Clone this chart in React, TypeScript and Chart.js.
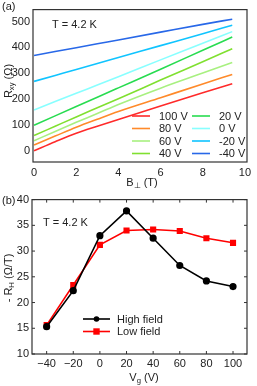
import React, { useEffect, useRef } from "react";
import { Chart, registerables } from "chart.js";

Chart.register(...registerables);

// ---- Panel (a) data ----
const B_FIELD = [0, 1, 2, 3, 4, 6, 8, 9.4];
const GATE_LABELS = ["100 V", "80 V", "60 V", "40 V", "20 V", "0 V", "-20 V", "-40 V"];
const R_100 = [1, 36, 69, 96, 122, 174, 225, 260];
const R_80 = [24, 58, 92, 123, 153, 206, 259, 296];
const R_60 = [40, 76, 111, 145, 180, 243, 301, 342];
const R_40 = [60, 96, 132, 167, 202, 274, 345, 395];
const R_20 = [100, 136, 172, 208, 244, 316, 389, 440];
const R_0 = [159, 191, 223, 255, 287, 352, 416, 461];
const R_M20 = [269, 292, 315, 338, 361, 407, 453, 486];
const R_M40 = [369, 384, 399, 414, 429, 459, 489, 509];
const GATE_COLORS = ["#ff2a2a", "#ff8a2a", "#a8f080", "#80e030", "#28dc50", "#88ffff", "#10c4ff", "#2868e8"];
const A_X_TICKS = [0, 2, 4, 6, 8, 10];
const A_Y_TICKS = [0, 100, 200, 300, 400, 500];

// ---- Panel (b) data ----
const VG = [-40, -20, 0, 20, 40, 60, 80, 100];
const HIGH_FIELD = [15.3, 22.3, 33.0, 37.8, 32.5, 27.2, 24.2, 23.1];
const LOW_FIELD = [15.6, 23.4, 31.2, 34.0, 34.2, 33.9, 32.5, 31.6];
const B_X_TICKS = [-40, -20, 0, 20, 40, 60, 80, 100];
const B_Y_TICKS = [10, 15, 20, 25, 30, 35, 40];

const FONT = "'Liberation Sans', Arial, sans-serif";
const TXT = "#222";

type Part = [string, boolean];
function drawParts(ctx: CanvasRenderingContext2D, parts: Part[], cx: number, cy: number, size: number, rotate: boolean) {
  ctx.save();
  ctx.translate(cx, cy);
  if (rotate) ctx.rotate(-Math.PI / 2);
  ctx.fillStyle = TXT;
  ctx.textBaseline = "middle";
  ctx.textAlign = "left";
  let w = 0;
  for (const [t, sub] of parts) {
    ctx.font = `${sub ? size * 0.7 : size}px ${FONT}`;
    w += ctx.measureText(t).width;
  }
  let x = -w / 2;
  for (const [t, sub] of parts) {
    ctx.font = `${sub ? size * 0.7 : size}px ${FONT}`;
    ctx.fillText(t, x, sub ? size * 0.3 : 0);
    x += ctx.measureText(t).width;
  }
  ctx.restore();
}

function text(ctx: CanvasRenderingContext2D, t: string, x: number, y: number, size = 11) {
  ctx.save();
  ctx.fillStyle = TXT;
  ctx.font = `${size}px ${FONT}`;
  ctx.textBaseline = "middle";
  ctx.textAlign = "left";
  ctx.fillText(t, x, y);
  ctx.restore();
}

function frame(chart: any, ticksX: number[] | null, ticksY: number[] | null) {
  const ctx = chart.ctx;
  const a = chart.chartArea;
  ctx.save();
  ctx.strokeStyle = "#333";
  ctx.lineWidth = 1.2;
  ctx.strokeRect(a.left, a.top, a.right - a.left, a.bottom - a.top);
  ctx.lineWidth = 1;
  if (ticksX) {
    for (const v of ticksX) {
      const x = chart.scales.x.getPixelForValue(v);
      ctx.beginPath();
      ctx.moveTo(x, a.bottom); ctx.lineTo(x, a.bottom - 3);
      ctx.moveTo(x, a.top); ctx.lineTo(x, a.top + 3);
      ctx.stroke();
    }
  }
  if (ticksY) {
    for (const v of ticksY) {
      const y = chart.scales.y.getPixelForValue(v);
      ctx.beginPath();
      ctx.moveTo(a.left, y); ctx.lineTo(a.left + 3, y);
      ctx.moveTo(a.right, y); ctx.lineTo(a.right - 3, y);
      ctx.stroke();
    }
  }
  ctx.restore();
}

const tickFont = { family: FONT, size: 11 };

export default function App() {
  const refA = useRef<HTMLCanvasElement>(null);
  const refB = useRef<HTMLCanvasElement>(null);

  useEffect(() => {
    const seriesA = [R_100, R_80, R_60, R_40, R_20, R_0, R_M20, R_M40];
    const chartA = new Chart(refA.current!, {
      type: "line",
      data: {
        datasets: seriesA.map((vals, i) => ({
          label: GATE_LABELS[i],
          data: vals.map((v, j) => ({ x: B_FIELD[j], y: v })),
          borderColor: GATE_COLORS[i],
          borderWidth: 1.6,
          pointRadius: 0,
          cubicInterpolationMode: "monotone",
        })),
      },
      options: {
        animation: false,
        responsive: false,
        events: [],
        layout: { padding: { top: 5, right: 10, left: 0, bottom: 0 } },
        plugins: { legend: { display: false }, tooltip: { enabled: false } },
        scales: {
          x: {
            type: "linear", min: -0.05, max: 10.1,
            afterFit: (s: any) => { s.height = 28; },
            afterBuildTicks: (s: any) => { s.ticks = A_X_TICKS.map((v) => ({ value: v })); },
            grid: { display: false, drawTicks: false }, border: { display: false },
            ticks: { padding: 4, color: TXT, font: tickFont, maxRotation: 0 },
          },
          y: {
            type: "linear", min: -42, max: 546,
            afterFit: (s: any) => { s.width = 33; },
            afterBuildTicks: (s: any) => { s.ticks = A_Y_TICKS.map((v) => ({ value: v })); },
            grid: { display: false, drawTicks: false }, border: { display: false },
            ticks: { padding: 3, color: TXT, font: tickFont },
          },
        },
      },
      plugins: [{
        id: "decorA",
        afterDraw: (chart: any) => {
          const ctx = chart.ctx;
          frame(chart, null, null);
          text(ctx, "(a)", 2, 7, 11);
          text(ctx, "T = 4.2 K", 52, 25, 11);
          drawParts(ctx, [["R", false], ["xy", true], [" (Ω)", false]], 9, 81, 11, true);
          drawParts(ctx, [["B", false], ["⊥", true], [" (T)", false]], 142, 183, 11, false);
          const rows = [116, 128.5, 141, 153.5];
          for (let i = 0; i < 8; i++) {
            const col = i < 4 ? 0 : 1;
            const y = rows[i % 4];
            const x0 = col === 0 ? 132 : 192;
            ctx.save();
            ctx.strokeStyle = GATE_COLORS[i];
            ctx.lineWidth = 1.6;
            ctx.beginPath(); ctx.moveTo(x0, y); ctx.lineTo(x0 + 18, y); ctx.stroke();
            ctx.restore();
            text(ctx, GATE_LABELS[i], x0 + 27, y + 0.5, 11);
          }
        },
      }],
    } as any);

    const chartB = new Chart(refB.current!, {
      type: "line",
      data: {
        datasets: [
          {
            label: "High field",
            data: VG.map((v, i) => ({ x: v, y: HIGH_FIELD[i] })),
            borderColor: "#000", backgroundColor: "#000",
            borderWidth: 1.6, pointStyle: "circle", pointRadius: 2.8,
          },
          {
            label: "Low field",
            data: VG.map((v, i) => ({ x: v, y: LOW_FIELD[i] })),
            borderColor: "#ff0000", backgroundColor: "#ff0000",
            borderWidth: 1.6, pointStyle: "rect", pointRadius: 3.2,
          },
        ],
      },
      options: {
        animation: false,
        responsive: false,
        events: [],
        layout: { padding: { top: 7, right: 10, left: 0, bottom: 0 } },
        plugins: { legend: { display: false }, tooltip: { enabled: false } },
        scales: {
          x: {
            type: "linear", min: -51, max: 110.5,
            afterFit: (s: any) => { s.height = 32; },
            afterBuildTicks: (s: any) => { s.ticks = B_X_TICKS.map((v) => ({ value: v })); },
            grid: { display: false, drawTicks: false }, border: { display: false },
            ticks: {
              padding: 3, color: TXT, font: tickFont, maxRotation: 0,
              callback: (v: any) => (Number(v) < 0 ? "\u2212" + Math.abs(Number(v)) : String(v)),
            },
          },
          y: {
            type: "linear", min: 10, max: 40,
            afterFit: (s: any) => { s.width = 32; },
            afterBuildTicks: (s: any) => { s.ticks = B_Y_TICKS.map((v) => ({ value: v })); },
            grid: { display: false, drawTicks: false }, border: { display: false },
            ticks: { padding: 3, color: TXT, font: tickFont },
          },
        },
      },
      plugins: [{
        id: "decorB",
        afterDraw: (chart: any) => {
          const ctx = chart.ctx;
          frame(chart, B_X_TICKS, B_Y_TICKS);
          text(ctx, "(b)", 2, 11, 11);
          text(ctx, "T = 4.2 K", 43, 33, 11);
          drawParts(ctx, [["- R", false], ["H", true], [" (Ω/T)", false]], 9, 88, 11, true);
          drawParts(ctx, [["V", false], ["g", true], [" (V)", false]], 144, 188, 11, false);
          const items = [
            { y: 129, color: "#000", label: "High field", shape: "circle" },
            { y: 141.5, color: "#ff0000", label: "Low field", shape: "rect" },
          ];
          for (const it of items) {
            ctx.save();
            ctx.strokeStyle = it.color;
            ctx.fillStyle = it.color;
            ctx.lineWidth = 1.6;
            ctx.beginPath(); ctx.moveTo(83, it.y); ctx.lineTo(110, it.y); ctx.stroke();
            if (it.shape === "circle") {
              ctx.beginPath(); ctx.arc(96.5, it.y, 2.8, 0, Math.PI * 2); ctx.fill();
            } else {
              ctx.fillRect(96.5 - 3.2, it.y - 3.2, 6.4, 6.4);
            }
            ctx.restore();
            text(ctx, it.label, 117, it.y + 0.5, 11);
          }
        },
      }],
    } as any);

    return () => {
      chartA.destroy();
      chartB.destroy();
    };
  }, []);

  return (
    <div style={{ position: "fixed", left: 0, top: 0, width: 257, height: 386, background: "#fff" }}>
      <canvas ref={refA} width={257} height={190} style={{ position: "absolute", left: 0, top: 0, width: 257, height: 190 }} />
      <canvas ref={refB} width={257} height={196} style={{ position: "absolute", left: 0, top: 190, width: 257, height: 196 }} />
    </div>
  );
}
